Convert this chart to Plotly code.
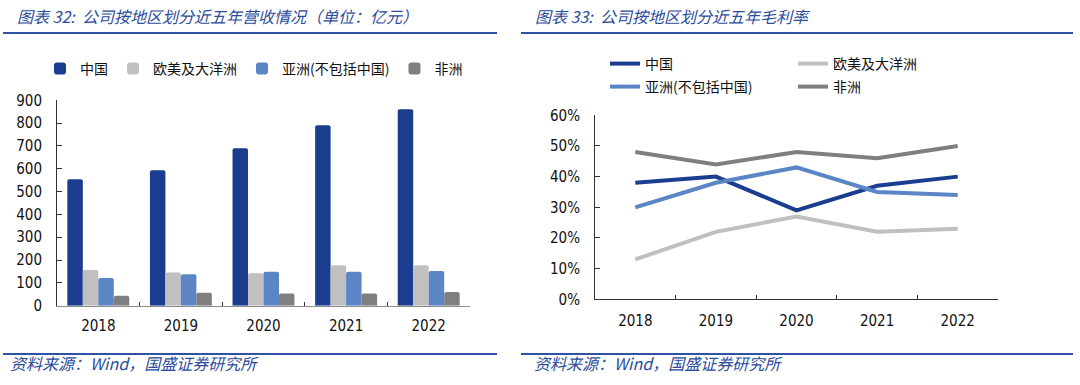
import plotly.graph_objects as go

years = ["2018", "2019", "2020", "2021", "2022"]

# 营收（亿元）
rev_china = [554, 593, 690, 791, 861]
rev_euro = [156, 145, 142, 177, 177]
rev_asia = [121, 138, 149, 149, 152]
rev_africa = [44, 57, 53, 53, 60]

# 毛利率
gm_china = [0.38, 0.40, 0.29, 0.37, 0.40]
gm_euro = [0.13, 0.22, 0.27, 0.22, 0.23]
gm_asia = [0.30, 0.38, 0.43, 0.35, 0.34]
gm_africa = [0.48, 0.44, 0.48, 0.46, 0.50]

names = ["中国", "欧美及大洋洲", "亚洲(不包括中国)", "非洲"]
colors = ["#1a3d8f", "#c0c0c0", "#5b85c5", "#7f7f7f"]

W, H = 1080, 385
def px(x):
    return x / W
def py(y):
    return (H - y) / H

CJK = "Noto Sans CJK SC"
NUM = "DejaVu Sans Condensed, DejaVu Sans"
TITLE_BLUE = "#2b4c9c"
RULE_BLUE = "#2f52a5"

fig = go.Figure()

for name, vals, c in zip(names, [rev_china, rev_euro, rev_asia, rev_africa], colors):
    fig.add_trace(go.Bar(x=years, y=vals, name=name, marker=dict(color=c, line=dict(width=0)),
                         xaxis="x", yaxis="y", legend="legend"))

legend_map = ["legend2", "legend2", "legend3", "legend3"]
for name, vals, c, lg in zip(names, [gm_china, gm_euro, gm_asia, gm_africa], colors, legend_map):
    fig.add_trace(go.Scatter(x=years, y=vals, name=name, mode="lines",
                             line=dict(color=c, width=4), xaxis="x2", yaxis="y2", legend=lg))

axis_common = dict(showgrid=False, zeroline=False, showline=True, linewidth=1, automargin=False)
tick_font = dict(family=NUM, size=15, color="#111111")
legend_font = dict(family=CJK, size=14, color="#111111")

fig.update_layout(
    template="none",
    width=W, height=H,
    margin=dict(l=0, r=0, t=0, b=0, pad=0, autoexpand=False),
    paper_bgcolor="white", plot_bgcolor="white",
    barmode="group", bargap=0.25, bargroupgap=0, barcornerradius=2,
    showlegend=True,
    xaxis=dict(**axis_common, domain=[px(57), px(470)], anchor="y", type="category",
               linecolor="#8a8a8a", ticks="inside", tickson="boundaries", ticklen=4,
               tickcolor="#333333", tickfont=tick_font, range=[-0.5, 4.5],
               ticklabelstandoff=6),
    yaxis=dict(**axis_common, domain=[py(305.7), py(100.3)], anchor="x", range=[0, 900],
               dtick=100, linecolor="#333333", ticks="inside", ticklen=5, tickcolor="#333333",
               tickfont=tick_font, ticklabelstandoff=11),
    xaxis2=dict(**axis_common, domain=[px(595), px(998)], anchor="y2", type="category",
                linecolor="#333333", ticks="inside", tickson="boundaries", ticklen=4,
                tickcolor="#333333", tickfont=tick_font, range=[-0.5, 4.5],
                ticklabelstandoff=8),
    yaxis2=dict(**axis_common, domain=[py(299.3), py(115.3)], anchor="x2", range=[0, 0.6],
                dtick=0.1, tickformat=".0%", linecolor="#333333", ticks="inside", ticklen=5,
                tickcolor="#333333", tickfont=tick_font, ticklabelstandoff=11),
    legend=dict(orientation="h", x=px(40), y=py(69), xanchor="left", yanchor="middle",
                font=legend_font, bgcolor="rgba(0,0,0,0)", itemwidth=30, traceorder="normal"),
    legend2=dict(orientation="h", x=px(605), y=py(64), xanchor="left", yanchor="middle",
                 font=legend_font, bgcolor="rgba(0,0,0,0)", itemwidth=30,
                 entrywidth=143, entrywidthmode="pixels", traceorder="normal"),
    legend3=dict(orientation="h", x=px(605), y=py(87), xanchor="left", yanchor="middle",
                 font=legend_font, bgcolor="rgba(0,0,0,0)", itemwidth=30,
                 entrywidth=143, entrywidthmode="pixels", traceorder="normal"),
)

# title / source rules
for x0, x1 in [(3, 497), (521, 1073)]:
    for y in (33, 354):
        fig.add_shape(type="line", xref="paper", yref="paper", x0=px(x0), x1=px(x1),
                      y0=py(y), y1=py(y), line=dict(color=RULE_BLUE, width=2))

titles = [("图表 32:  公司按地区划分近五年营收情况（单位：亿元）", 15),
          ("图表 33:  公司按地区划分近五年毛利率", 533)]
for text, x in titles:
    fig.add_annotation(text=f"<i>{text}</i>", xref="paper", yref="paper", x=px(x), y=py(16),
                       xanchor="left", yanchor="middle", showarrow=False,
                       font=dict(family=CJK, size=16, color=TITLE_BLUE))

for x in (8, 532):
    fig.add_annotation(text="<i>资料来源：Wind，国盛证券研究所</i>", xref="paper", yref="paper",
                       x=px(x), y=py(363), xanchor="left", yanchor="middle", showarrow=False,
                       font=dict(family=CJK, size=16, color=TITLE_BLUE))

fig.write_html("out.html", config={"displayModeBar": False},
               post_script="document.body.style.margin='0';")
